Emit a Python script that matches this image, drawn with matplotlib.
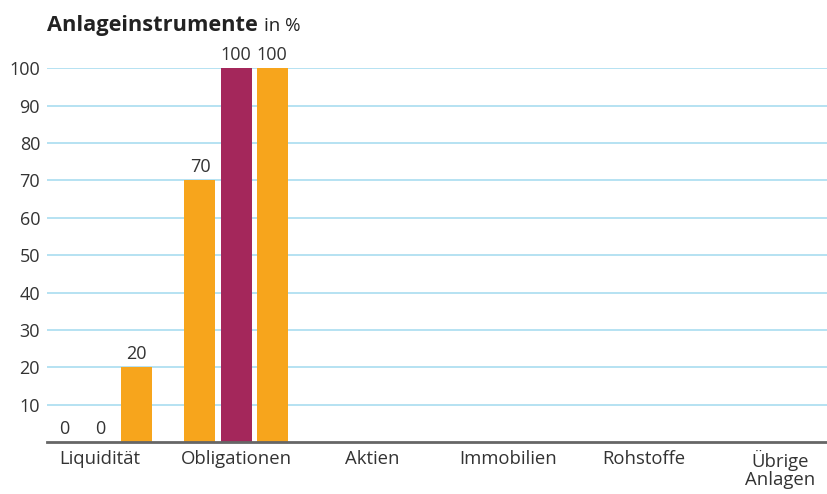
import matplotlib.pyplot as plt
import numpy as np

# data
categories = ['Liquidität', 'Obligationen', 'Aktien', 'Immobilien', 'Rohstoffe', 'Übrige\nAnlagen']
series_a = [0, 70, np.nan, np.nan, np.nan, np.nan]
series_b = [0, 100, np.nan, np.nan, np.nan, np.nan]
series_c = [20, 100, np.nan, np.nan, np.nan, np.nan]
y_ticks = [10, 20, 30, 40, 50, 60, 70, 80, 90, 100]

orange = '#F7A51C'
maroon = '#A4275B'
text_col = '#333333'

plt.rcParams['font.family'] = ['Open Sans', 'DejaVu Sans']

fig = plt.figure(figsize=(8.27, 4.94), dpi=100)
ax = fig.add_axes([0.0568, 0.105, 0.9432, 0.757])

x = np.arange(len(categories))
step = 0.265
width = 0.228
for off, vals, col in [(-step, series_a, orange), (0, series_b, maroon), (step, series_c, orange)]:
    ax.bar(x + off, vals, width=width, color=col, zorder=3)
    for xi, v in zip(x + off, vals):
        if np.isnan(v):
            continue
        ax.text(xi, v + 1.2, f'{v:.0f}', ha='center', va='bottom',
                fontsize=13, color=text_col, clip_on=False)

ax.set_xlim(-0.39, 5.345)
ax.set_ylim(0, 100)
ax.set_yticks(y_ticks)
ax.set_yticklabels([str(t) for t in y_ticks], fontsize=13, color=text_col)
ax.set_xticks(x)
ax.set_xticklabels(categories, fontsize=13.3, color=text_col, linespacing=1.0, va='top')
ax.tick_params(axis='both', length=0)
ax.tick_params(axis='y', pad=5)
ax.tick_params(axis='x', pad=6)

ax.grid(axis='y', color='#A9DDF0', linewidth=1.2, zorder=0)
for s in ['top', 'right', 'left']:
    ax.spines[s].set_visible(False)
ax.spines['bottom'].set_color('#666666')
ax.spines['bottom'].set_linewidth(2)
ax.spines['bottom'].set_zorder(4)

# title: bold part, then the unit right after it
t1 = fig.text(0.0568, 0.937, 'Anlageinstrumente', fontsize=15.7, fontweight='bold',
              color='#222222', va='baseline')
fig.canvas.draw()
bb = t1.get_window_extent(renderer=fig.canvas.get_renderer())
fig.text(bb.x1 / fig.bbox.width + 0.008, 0.937, 'in %', fontsize=13.5,
         color='#222222', va='baseline')

fig.savefig('out.png', dpi=100)
